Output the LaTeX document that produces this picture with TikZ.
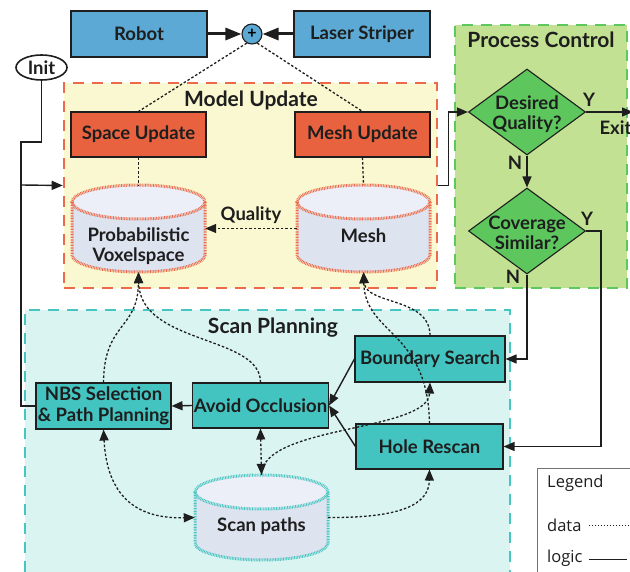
\documentclass[tikz,border=0pt]{standalone}
\usepackage{fontspec}
\setmainfont{Lato}
\newfontfamily\legendfont{Open Sans}
\usetikzlibrary{shapes.geometric,arrows.meta}

\definecolor{inkdark}{HTML}{1E1E1E}
\definecolor{sensorblue}{HTML}{5BA9D4}
\definecolor{updred}{HTML}{E8623F}
\definecolor{modelfill}{HTML}{FAF8D0}
\definecolor{modelline}{HTML}{EC6A4A}
\definecolor{procfill}{HTML}{C3E193}
\definecolor{procline}{HTML}{5DC85D}
\definecolor{decfill}{HTML}{5DC75E}
\definecolor{scanfill}{HTML}{DAF4F2}
\definecolor{scanline}{HTML}{47C5C1}
\definecolor{tealbox}{HTML}{43C4C1}
\definecolor{cylbody}{HTML}{DEE3F0}
\definecolor{cyltop}{HTML}{ECEFF7}

\tikzset{
  headA/.tip={Triangle[length=11pt,width=9pt]},
  headB/.tip={Triangle[length=16pt,width=12pt]},
  labelfont/.style={font=\bfseries\fontsize{18.5}{20.5}\selectfont, text=inkdark},
  titlefont/.style={font=\bfseries\fontsize{21}{24}\selectfont, text=inkdark},
  keyfont/.style={font=\legendfont\fontsize{16.5}{19}\selectfont, text=inkdark},
  blockbox/.style={rectangle, draw=inkdark, line width=1.1pt, inner sep=0pt, labelfont, align=center},
  groupbox/.style={rectangle, inner sep=0pt, line width=2.6pt, dash pattern=on 11pt off 8pt},
  decision/.style={diamond, draw=inkdark, line width=1.1pt, fill=decfill, inner sep=0pt,
                   minimum width=117pt, minimum height=86pt},
  holder/.style={rectangle, inner sep=0pt, draw=none},
  logic/.style={draw=inkdark, line width=1.4pt},
  logicarrow/.style={logic, -headA},
  data/.style={draw=inkdark, line width=1.3pt, dash pattern=on 2.5pt off 2pt},
  dataarrow/.style={data, -headA},
  databoth/.style={data, headA-headA},
  cylborder/.style={draw=#1, line width=3pt, dash pattern=on 0.8pt off 0.8pt},
}

% cylinder: centre x, top y, bottom y, half width, cap half height, border colour
\newcommand\drawdrum[6]{%
  \fill[cylbody] (#1-#4,#2+#5) -- (#1-#4,#3-#5)
     arc[start angle=180,end angle=360,x radius=#4pt,y radius=#5pt]
     -- (#1+#4,#2+#5) -- cycle;
  \fill[cyltop] (#1,#2+#5) ellipse[x radius=#4pt,y radius=#5pt];
  \draw[cylborder=#6] (#1-#4,#2+#5) -- (#1-#4,#3-#5)
     arc[start angle=180,end angle=360,x radius=#4pt,y radius=#5pt]
     -- (#1+#4,#2+#5);
  \draw[cylborder=#6] (#1,#2+#5) ellipse[x radius=#4pt,y radius=#5pt];
}

\begin{document}
\begin{tikzpicture}[x=1pt,y=-1pt]
\useasboundingbox (0,0) rectangle (630,572);
\clip (0,0) rectangle (630,572);
\fill[white] (0,0) rectangle (630,572);

% ---------- group frames ----------
\node[groupbox, fill=modelfill, draw=modelline, minimum width=373pt, minimum height=205pt]
  (modelbox) at (250.5,185.5) {};
\node[titlefont] at (251,100) {Model Update};

\node[groupbox, fill=procfill, draw=procline, minimum width=172pt, minimum height=263pt]
  (procbox) at (541,156.5) {};
\node[titlefont] at (541,40) {Process Control};

\node[groupbox, fill=scanfill, draw=scanline, minimum width=485pt, minimum height=280pt]
  (scanbox) at (267.5,450) {};
\node[titlefont] at (273,328) {Scan Planning};

% ---------- sensors ----------
\node[blockbox, fill=sensorblue, minimum width=136pt, minimum height=46pt] (robot) at (139,34) {Robot};
\node[blockbox, fill=sensorblue, minimum width=136pt, minimum height=46pt] (laser) at (362,34) {Laser Striper};
\node[circle, draw=inkdark, line width=1.1pt, fill=sensorblue, minimum size=20pt, inner sep=0pt,
      font=\bfseries\fontsize{16}{16}\selectfont] (plus) at (252,34) {+};
\node[ellipse, draw=inkdark, line width=1.6pt, fill=white, minimum width=51pt, minimum height=25pt,
      inner sep=0pt, labelfont] (init) at (41.5,67.5) {Init};

% ---------- model update ----------
\node[blockbox, fill=updred, minimum width=135pt, minimum height=45pt] (spaceup) at (138.5,134.5) {Space Update};
\node[blockbox, fill=updred, minimum width=135pt, minimum height=45pt] (meshup) at (362.5,134.5) {Mesh Update};

\drawdrum{138.5}{185}{272}{66.5}{17}{modelline}
\drawdrum{363.5}{185}{272}{66.5}{17}{modelline}
\node[holder, minimum width=133pt, minimum height=87pt] (vox) at (138.5,228.5) {};
\node[holder, minimum width=133pt, minimum height=87pt] (mesh) at (363.5,228.5) {};
\node[labelfont, align=center] at (138.5,246) {Probabilistic\\Voxelspace};
\node[labelfont] at (363.5,236) {Mesh};

% ---------- process control ----------
\node[decision] (dq) at (527,112) {};
\node[labelfont, align=center] at (527,114) {Desired\\Quality?};
\node[decision] (cs) at (527,231) {};
\node[labelfont, align=center] at (527,233) {Coverage\\Similar?};
\coordinate (exit) at (633,112);

% ---------- scan planning ----------
\node[blockbox, fill=tealbox, minimum width=135pt, minimum height=46pt] (nbs) at (103.5,406) {NBS Selection\\\& Path Planning};
\node[blockbox, fill=tealbox, minimum width=136pt, minimum height=45pt] (avoid) at (260.5,405.5) {Avoid Occlusion};
\node[blockbox, fill=tealbox, minimum width=150pt, minimum height=46pt] (bsearch) at (430,359) {Boundary Search};
\node[blockbox, fill=tealbox, minimum width=147pt, minimum height=45pt] (hole) at (429.5,446.5) {Hole Rescan};

\drawdrum{261.5}{475}{560}{66.5}{17}{scanline}
\node[holder, minimum width=133pt, minimum height=85pt] (scan) at (261.5,517.5) {};
\node[labelfont] at (261.5,526) {Scan paths};

% ---------- sensor fusion ----------
\draw[line width=3pt, draw=inkdark, -headB] (robot) -- (plus);
\draw[line width=3pt, draw=inkdark, -headB] (laser) -- (plus);
\draw[data] (plus.240) -- (spaceup.north);
\draw[data] (plus.300) -- (meshup.north);
\draw[data] (spaceup.south) -- (vox.north);
\draw[data] (meshup.south) -- (mesh.north);
\draw[dataarrow] (mesh.west) -- node[above=1pt, labelfont] {Quality} (vox.east);

% ---------- logic flow ----------
\coordinate (bend) at (21,142);
\coordinate (split) at (21,185);
\draw[logic] (init.south) |- (bend) -- (21,406) -- (nbs.west);
\draw[logicarrow] (split) -- (modelbox.west);
\draw[logicarrow] (modelbox.east) -- ++(10,0) |- (dq.west);
\draw[logicarrow] (dq.east) -- (exit);
\node[labelfont] at (589,100) {Y};
\node[labelfont, anchor=west] at (596,128) {Exit};
\draw[logicarrow] (dq.south) -- (cs.north);
\node[labelfont] at (515,163) {N};
\draw[logicarrow] (cs.south) |- (bsearch.east);
\node[labelfont] at (513,277) {N};
\draw[logicarrow] (cs.east) -- ++(15,0) |- (hole.east);
\node[labelfont] at (587,219) {Y};
\draw[logicarrow] (bsearch.west) -- (avoid.east);
\draw[logicarrow] (hole.west) -- (avoid.east);
\draw[logicarrow] (avoid.west) -- (nbs.east);

% ---------- data flow in scan planning ----------
\draw[dataarrow] (nbs.north) .. controls (104,322) and (138,330) .. (vox.south);
\draw[dataarrow] (avoid.north) .. controls (261,335) and (140,345) .. (vox.south);
\draw[dataarrow] (bsearch.north) .. controls (430,297) and (366,305) .. (mesh.south);
\draw[dataarrow] (hole.north) .. controls (428,330) and (365,335) .. (mesh.south);
\draw[databoth] (avoid.south) -- (scan.north);
\draw[dataarrow] (scan.north) .. controls (262,425) and (428,432) .. (bsearch.south);
\draw[dataarrow] (scan.east) .. controls (400,518) and (429,505) .. (hole.south);
\draw[databoth] (nbs.south) .. controls (107,495) and (135,519) .. (scan.west);

% ---------- legend ----------
\node[rectangle, draw=black!55, line width=1pt, fill=white, minimum width=110pt, minimum height=120pt,
      inner sep=0pt] (legend) at (592,528) {};
\node[keyfont, anchor=west, inner sep=0pt] at (547,483) {Legend};
\node[keyfont, anchor=west, inner sep=0pt] (datakey) at (547,525) {data};
\node[keyfont, anchor=west, inner sep=0pt] (logickey) at (547,558) {logic};
\coordinate (dataend) at (630,525);
\coordinate (logicend) at (627,559);
\draw[data, line width=1pt, dash pattern=on 1.5pt off 1.5pt] ([xshift=7pt]datakey.east) -- (dataend);
\draw[logic, line width=1pt] ([xshift=6pt]logickey.east |- logicend) -- (logicend);
\end{tikzpicture}
\end{document}
